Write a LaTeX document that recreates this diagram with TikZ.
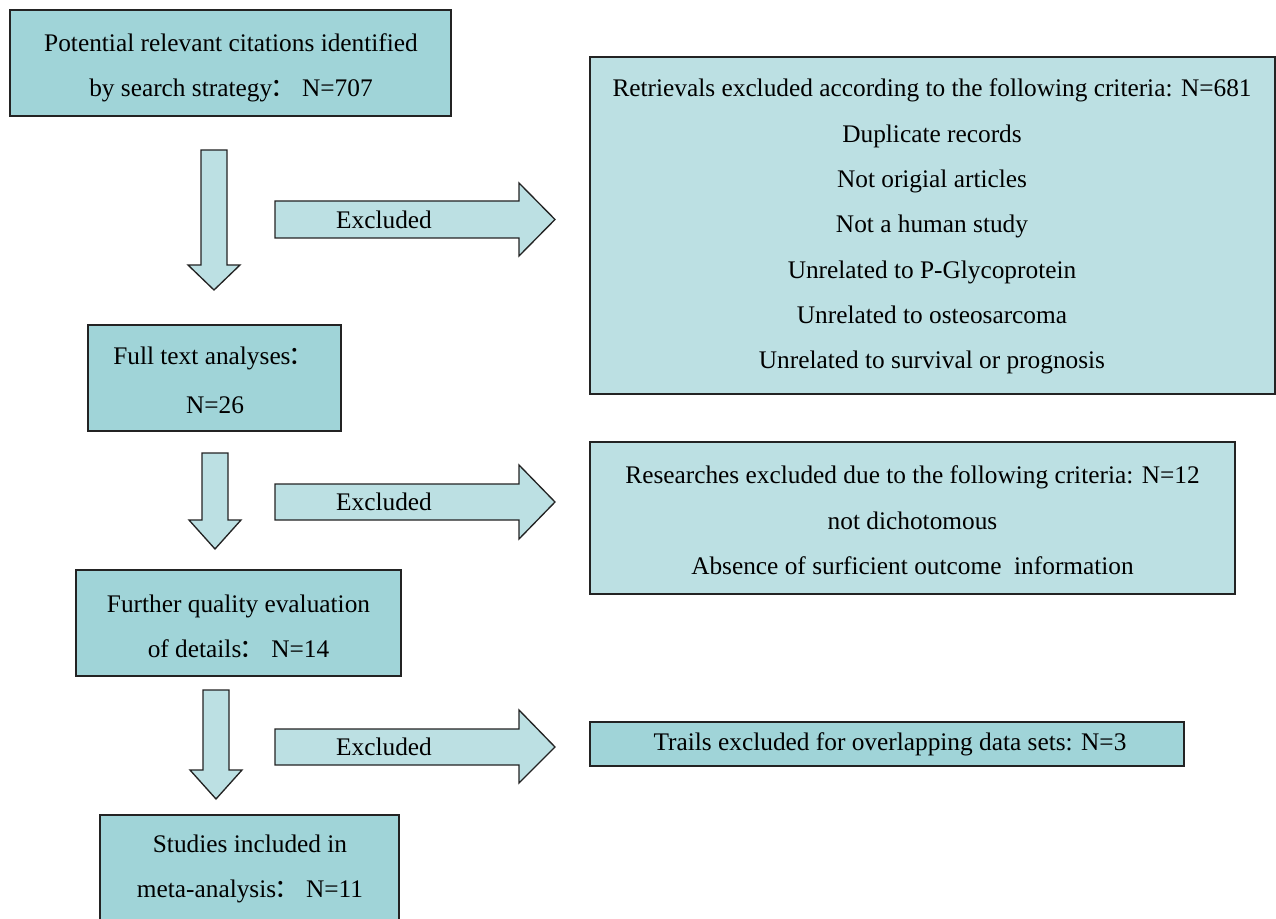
\documentclass[tikz,border=0pt]{standalone}
\usepackage{fontspec}
\setmainfont{Liberation Serif}
\newfontfamily\cjk{Noto Sans CJK SC}
\newcommand\fwc{\kern-0.07em{\cjk ：}\kern0.25em}
\definecolor{darkfill}{RGB}{160,212,216}
\definecolor{lightfill}{RGB}{188,224,227}
\definecolor{edge}{RGB}{35,35,35}
\begin{document}
\begin{tikzpicture}[x=0.75pt,y=-0.75pt,
  boxbase/.style={draw=edge,line width=1pt,rectangle,inner sep=0pt},
  darkbox/.style={boxbase,fill=darkfill},
  lightbox/.style={boxbase,fill=lightfill},
  blockarrow/.style={draw=edge,line width=1pt,fill=lightfill,line join=miter},
  txt/.style={inner sep=0pt,align=center,font=\fontsize{19pt}{34pt}\selectfont},
  lbl/.style={inner sep=0pt,font=\fontsize{19pt}{34pt}\selectfont}]
\useasboundingbox (0,0) rectangle (1276,919);
% boxes
\node[darkbox,minimum width=441*0.75pt,minimum height=106*0.75pt] (b1) at (230.5,63) {};
\node[lightbox,minimum width=685*0.75pt,minimum height=337*0.75pt] (r1) at (932.5,225.5) {};
\node[darkbox,minimum width=253*0.75pt,minimum height=106*0.75pt] (b2) at (214.5,378) {};
\node[lightbox,minimum width=645*0.75pt,minimum height=152*0.75pt] (r2) at (912.5,518) {};
\node[darkbox,minimum width=325*0.75pt,minimum height=106*0.75pt] (b3) at (238.5,623) {};
\node[darkbox,minimum width=594*0.75pt,minimum height=44*0.75pt] (r3) at (887,744) {};
\node[darkbox,minimum width=299*0.75pt,minimum height=120*0.75pt] (b4) at (249.5,875) {};
% texts
\node[txt] (t1) at (231,67.5) {Potential relevant citations identified\\by search strategy\fwc N=707};
\node[txt] (tr1) at (932,226.5) {Retrievals excluded according to the following criteria: N=681\\Duplicate records\\Not origial articles\\Not a human study\\Unrelated to P-Glycoprotein\\Unrelated to osteosarcoma\\Unrelated to survival or prognosis};
\node[lbl,anchor=west] (t2a) at (113,358) {Full text analyses\fwc};
\node[lbl] (t2b) at (215,405) {N=26};
\node[txt] (tr2) at (912.5,520.5) {Researches excluded due to the following criteria: N=12\\not dichotomous\\Absence of surficient outcome\ \ information};
\node[txt] (t3) at (238.5,626.5) {Further quality evaluation\\of details\fwc N=14};
\node[lbl] (tr3) at (890,744) {Trails excluded for overlapping data sets: N=3};
\node[txt] (t4) at (250,869) {Studies included in\\meta-analysis\fwc N=11};
% down arrows
\draw[blockarrow] (201,150) -- (227,150) -- (227,265) -- (240,265) -- (214,290) -- (188,265) -- (201,265) -- cycle;
\draw[blockarrow] (202,453) -- (228,453) -- (228,520) -- (241,520) -- (215,549) -- (189,520) -- (202,520) -- cycle;
\draw[blockarrow] (203,690) -- (229,690) -- (229,770) -- (242,770) -- (216,799) -- (190,770) -- (203,770) -- cycle;
% right arrows
\draw[blockarrow] (275,201) -- (519,201) -- (519,183) -- (555,219.5) -- (519,256) -- (519,238) -- (275,238) -- cycle;
\draw[blockarrow] (275,484) -- (519,484) -- (519,465) -- (555,502) -- (519,539) -- (519,520) -- (275,520) -- cycle;
\draw[blockarrow] (275,729) -- (519,729) -- (519,710) -- (555,747) -- (519,783) -- (519,765) -- (275,765) -- cycle;
\node[lbl] (e1) at (384,220) {Excluded};
\node[lbl] (e2) at (384,502) {Excluded};
\node[lbl] (e3) at (384,747) {Excluded};
\end{tikzpicture}
\end{document}
